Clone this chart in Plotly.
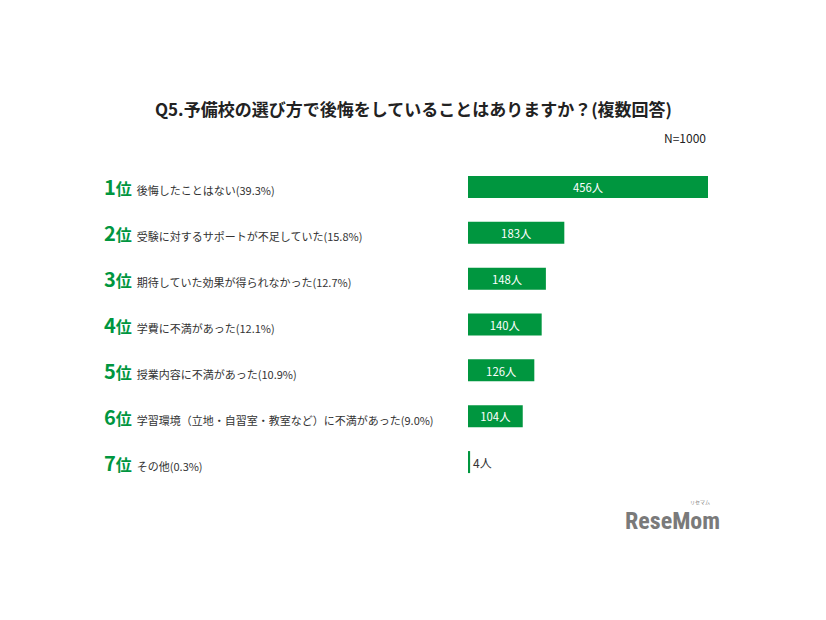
import plotly.graph_objects as go

ranks = ["1", "2", "3", "4", "5", "6", "7"]
labels = [
    "後悔したことはない(39.3%)",
    "受験に対するサポートが不足していた(15.8%)",
    "期待していた効果が得られなかった(12.7%)",
    "学費に不満があった(12.1%)",
    "授業内容に不満があった(10.9%)",
    "学習環境（立地・自習室・教室など）に不満があった(9.0%)",
    "その他(0.3%)",
]
counts = [456, 183, 148, 140, 126, 104, 4]
value_text = [f"{c}人" for c in counts]

GREEN = "#00963F"
FONT = "Noto Sans CJK JP"

cats = [f"r{r}" for r in ranks]

fig = go.Figure()
fig.add_trace(go.Bar(
    x=counts, y=cats, orientation="h",
    marker=dict(color=GREEN, line=dict(width=0)),
    text=value_text, textposition="auto",
    insidetextanchor="middle",
    insidetextfont=dict(color="white", size=12, family=FONT),
    outsidetextfont=dict(color="#333333", size=12, family=FONT),
    cliponaxis=False,
    hoverinfo="skip",
))

for r, lab, c in zip(ranks, labels, cats):
    fig.add_annotation(
        x=0, xref="paper", y=c, yref="y", xshift=-366, xanchor="left",
        showarrow=False, align="left",
        text=(f"<b><span style='font-size:20px;color:{GREEN}'>{r}</span>"
              f"<span style='font-size:16px;color:{GREEN}'>位</span></b>"
              f"<span style='font-size:11px;color:#333333'>  {lab}</span>"),
        font=dict(family=FONT, size=11, color="#333333"),
    )

fig.add_annotation(
    x=0.5, xref="paper", y=1, yref="paper", yshift=56, xshift=-175,
    showarrow=False, yanchor="middle",
    text="<b>Q5.予備校の選び方で後悔をしていることはありますか？(複数回答)</b>",
    font=dict(family=FONT, size=17, color="#222222"),
)
fig.add_annotation(
    x=1, xref="paper", y=1, yref="paper", yshift=27, showarrow=False,
    xanchor="right", yanchor="middle",
    text="N=1000", font=dict(family=FONT, size=12, color="#222222"),
)
fig.add_annotation(
    x=1, xref="paper", y=0, yref="paper", yshift=-36, xshift=14, showarrow=False,
    xanchor="right", yanchor="middle",
    text="<b>ReseMom</b>", font=dict(family="Roboto Condensed, Roboto", size=24, color="#7a7a7a"),
)
fig.add_annotation(
    x=1, xref="paper", y=0, yref="paper", yshift=-23, xshift=4, showarrow=False,
    xanchor="right", yanchor="bottom",
    text="リセマム", font=dict(family=FONT, size=5, color="#7a7a7a"),
)

fig.update_layout(
    width=826, height=620,
    margin=dict(l=468, r=118, t=164, b=135),
    paper_bgcolor="white", plot_bgcolor="white",
    showlegend=False, bargap=0.52,
    font=dict(family=FONT),
    xaxis=dict(range=[0, 456], visible=False, fixedrange=True),
    yaxis=dict(visible=False, autorange="reversed", fixedrange=True),
)

fig.write_html("out.html")
